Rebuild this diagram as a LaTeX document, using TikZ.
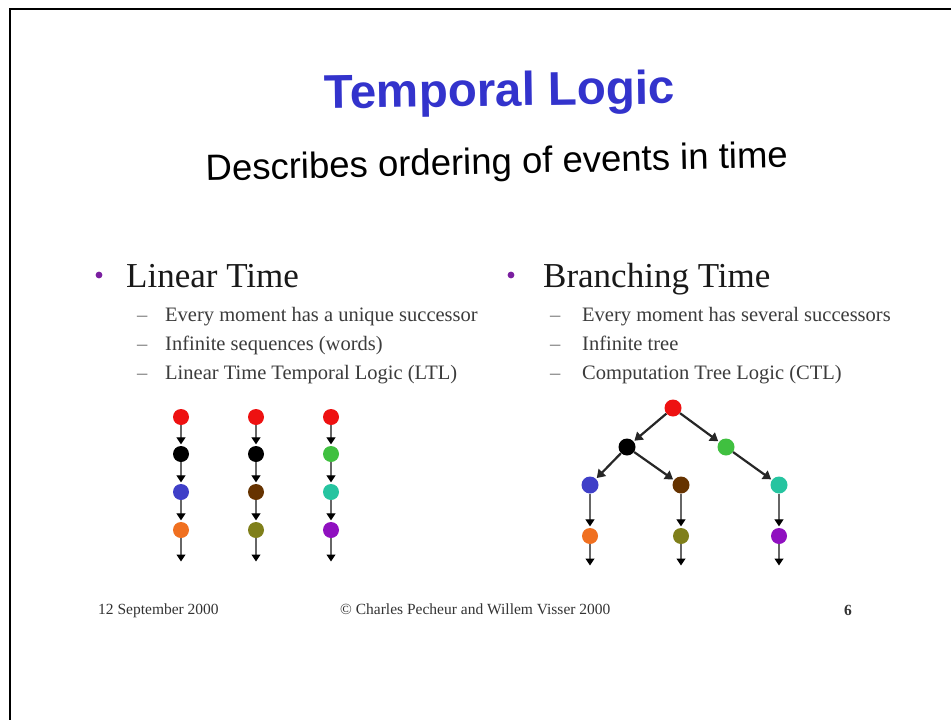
\documentclass[tikz,border=0pt]{standalone}
\usepackage{fontspec}
\setmainfont{Liberation Serif}
\newfontfamily\headfont{Liberation Sans}
\usetikzlibrary{arrows.meta}

\definecolor{titleblue}{HTML}{3333CC}
\definecolor{bulletpurple}{HTML}{7A1FA0}
\definecolor{itemgray}{HTML}{3C3C3C}
\definecolor{sred}{HTML}{EE1111}
\definecolor{sblack}{HTML}{000000}
\definecolor{sblue}{HTML}{3F3FC8}
\definecolor{sorange}{HTML}{F07020}
\definecolor{sbrown}{HTML}{663300}
\definecolor{solive}{HTML}{7F7F1A}
\definecolor{sgreen}{HTML}{40C040}
\definecolor{steal}{HTML}{26C4A0}
\definecolor{spurple}{HTML}{9010C0}

\begin{document}
\begin{tikzpicture}[x=1pt,y=-1pt,
  state/.style={circle,fill=#1,inner sep=0pt,minimum size=16pt},
  chain/.style={draw=black!60,line width=1.2pt,shorten >=1.5pt,
    -{Triangle[width=9pt,length=7pt,color=black]}},
  branch/.style={draw=black!85,line width=2.2pt,shorten >=1pt,
    -{Triangle[width=10pt,length=8pt]}},
  heading/.style={anchor=base west,inner sep=0pt,text=black!90,
    font=\fontsize{35}{35}\selectfont},
  item/.style={anchor=base west,inner sep=0pt,text=itemgray,
    font=\fontsize{20.5}{20.5}\selectfont},
  dashmark/.style={anchor=base west,inner sep=0pt,text=black!55,
    font=\fontsize{20.5}{20.5}\selectfont},
  footer/.style={anchor=base west,inner sep=0pt,text=black!80,
    font=\fontsize{15.5}{15.5}\selectfont}]

\useasboundingbox (0,0) rectangle (951,720);
\fill[white] (0,0) rectangle (951,720);

% slide frame (top and left edges)
\draw[line width=2pt] (10,720) -- (10,9) -- (951,9);

% title and subtitle
\node[anchor=base,inner sep=0pt,text=titleblue,rotate=0.8,
  font=\headfont\bfseries\fontsize{47.5}{47.5}\selectfont] (title) at (500,106) {Temporal Logic};
\node[anchor=base,inner sep=0pt,rotate=1.3,
  font=\headfont\fontsize{36.5}{36.5}\selectfont] (subtitle) at (497,174) {Describes ordering of events in time};

% left column: linear time
\fill[bulletpurple] (99,275) circle (3.4pt);
\node[heading] (lin) at (126,287) {Linear Time};
\node[dashmark] (ld1) at (137,321) {–};
\node[dashmark] (ld2) at (137,350) {–};
\node[dashmark] (ld3) at (137,379) {–};
\node[item] (li1) at (165,321) {Every moment has a unique successor};
\node[item] (li2) at (165,350) {Infinite sequences (words)};
\node[item] (li3) at (165,379) {Linear Time Temporal Logic (LTL)};

% right column: branching time
\fill[bulletpurple] (511,275) circle (3.4pt);
\node[heading] (br) at (543,287) {Branching Time};
\node[dashmark] (rd1) at (550,321) {–};
\node[dashmark] (rd2) at (550,350) {–};
\node[dashmark] (rd3) at (550,379) {–};
\node[item] (ri1) at (582,321) {Every moment has several successors};
\node[item] (ri2) at (582,350) {Infinite tree};
\node[item] (ri3) at (582,379) {Computation Tree Logic (CTL)};

% three linear runs
\node[state=sred]    (a1) at (181,417) {};
\node[state=sblack]  (a2) at (181,454) {};
\node[state=sblue]   (a3) at (181,492) {};
\node[state=sorange] (a4) at (181,530) {};
\coordinate (a5) at (181,563);

\node[state=sred]    (b1) at (256,417) {};
\node[state=sblack]  (b2) at (256,454) {};
\node[state=sbrown]  (b3) at (256,492) {};
\node[state=solive]  (b4) at (256,530) {};
\coordinate (b5) at (256,563);

\node[state=sred]    (c1) at (331,417) {};
\node[state=sgreen]  (c2) at (331,454) {};
\node[state=steal]   (c3) at (331,492) {};
\node[state=spurple] (c4) at (331,530) {};
\coordinate (c5) at (331,563);

\foreach \r in {a,b,c}{
  \draw[chain] (\r1) -- (\r2);
  \draw[chain] (\r2) -- (\r3);
  \draw[chain] (\r3) -- (\r4);
  \draw[chain] (\r4) -- (\r5);
}

% computation tree
\node[state=sred,minimum size=17pt]   (t0) at (673,408) {};
\node[state=sblack,minimum size=17pt] (t1) at (627,447) {};
\node[state=sgreen,minimum size=17pt] (t2) at (726,447) {};
\node[state=sblue,minimum size=17pt]  (t3) at (590,485) {};
\node[state=sbrown,minimum size=17pt] (t4) at (681,485) {};
\node[state=steal,minimum size=17pt]  (t5) at (779,485) {};
\node[state=sorange] (t6) at (590,536) {};
\node[state=solive]  (t7) at (681,536) {};
\node[state=spurple] (t8) at (779,536) {};
\coordinate (t9)  at (590,567);
\coordinate (t10) at (681,567);
\coordinate (t11) at (779,567);

\draw[branch] (t0) -- (t1);
\draw[branch] (t0) -- (t2);
\draw[branch] (t1) -- (t3);
\draw[branch] (t1) -- (t4);
\draw[branch] (t2) -- (t5);
\draw[chain] (t3) -- (t6);
\draw[chain] (t4) -- (t7);
\draw[chain] (t5) -- (t8);
\draw[chain] (t6) -- (t9);
\draw[chain] (t7) -- (t10);
\draw[chain] (t8) -- (t11);

% footer
\node[footer] (date) at (98,614) {12 September 2000};
\node[footer] (copy) at (340,614) {© Charles Pecheur and Willem Visser 2000};
\node[footer,anchor=base,font=\bfseries\fontsize{15.5}{15.5}\selectfont] (page) at (848,615) {6};
\end{tikzpicture}
\end{document}
